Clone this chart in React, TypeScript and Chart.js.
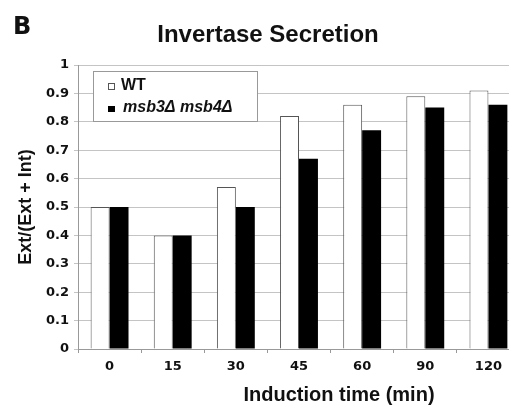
import React, { useEffect, useRef } from "react";
import { Chart, registerables } from "chart.js";

Chart.register(...registerables);

const categories = ["0", "15", "30", "45", "60", "90", "120"];
const wtValues = [0.5, 0.4, 0.57, 0.82, 0.86, 0.89, 0.91];
const mutantValues = [0.5, 0.4, 0.5, 0.67, 0.77, 0.85, 0.86];
const yTickLabels = ["0", "0.1", "0.2", "0.3", "0.4", "0.5", "0.6", "0.7", "0.8", "0.9", "1"];
const seriesLabels = ["WT", "msb3Δ msb4Δ"];
const chartTitle = "Invertase Secretion";
const panelLetter = "B";
const xTitle = "Induction time (min)";
const yTitle = "Ext/(Ext + Int)";

const SANS = "'Liberation Sans', Arial, sans-serif";
const TICK_FONT = "'DejaVu Sans', sans-serif";

const overlayPlugin = {
  id: "overlay",
  afterDraw(chart: any) {
    const ctx = chart.ctx as CanvasRenderingContext2D;
    const area = chart.chartArea;
    ctx.save();
    ctx.fillStyle = "#111";
    ctx.textBaseline = "alphabetic";
    // panel letter
    ctx.textAlign = "left";
    ctx.font = `bold 24px 'DejaVu Sans', sans-serif`;
    ctx.fillText(panelLetter, 13, 34);
    // title
    ctx.textAlign = "center";
    ctx.font = `bold 24px ${SANS}`;
    ctx.fillText(chartTitle, 268, 42);
    // x title
    ctx.font = `bold 20px ${SANS}`;
    ctx.fillText(xTitle, 339, 401);

    // legend
    const bx = area.left + 15;
    const by = area.top + 6;
    const bw = 164;
    const bh = 50;
    ctx.fillStyle = "#fff";
    ctx.fillRect(bx, by, bw, bh);
    ctx.strokeStyle = "#999";
    ctx.lineWidth = 1;
    ctx.strokeRect(bx + 0.5, by + 0.5, bw, bh);
    const ds = chart.data.datasets;
    // entry 1
    ctx.fillStyle = "#fff";
    ctx.fillRect(bx + 15, by + 12, 6, 6);
    ctx.strokeStyle = "#555";
    ctx.strokeRect(bx + 15.5, by + 12.5, 6, 6);
    ctx.fillStyle = "#111";
    ctx.textAlign = "left";
    ctx.font = `bold 16px ${SANS}`;
    ctx.fillText(ds[0].label, bx + 28, by + 19);
    // entry 2
    ctx.fillStyle = ds[1].backgroundColor;
    ctx.fillRect(bx + 15, by + 35, 7, 6);
    ctx.fillStyle = "#111";
    ctx.font = `italic bold 16px ${SANS}`;
    ctx.fillText(ds[1].label, bx + 30, by + 41);
    ctx.restore();
  },
};

export default function App() {
  const canvasRef = useRef<HTMLCanvasElement | null>(null);

  useEffect(() => {
    if (!canvasRef.current) return;
    const chart = new Chart(canvasRef.current, {
      type: "bar",
      data: {
        labels: categories,
        datasets: [
          {
            label: seriesLabels[0],
            data: wtValues,
            backgroundColor: "#ffffff",
            borderColor: "#555555",
            borderWidth: 1,
            borderSkipped: "bottom",
          },
          {
            label: seriesLabels[1],
            data: mutantValues,
            backgroundColor: "#000000",
            borderColor: "#000000",
            borderWidth: 0,
          },
        ],
      },
      options: {
        responsive: false,
        animation: false,
        devicePixelRatio: 1,
        layout: { padding: { top: 65, bottom: 34, left: 0, right: 0 } },
        datasets: {
          bar: { categoryPercentage: 0.6, barPercentage: 1 },
        },
        plugins: {
          legend: { display: false },
          title: { display: false },
          tooltip: { enabled: false },
        },
        scales: {
          x: {
            afterFit: (s: any) => {
              s.height = 24;
            },
            grid: {
              display: true,
              drawOnChartArea: false,
              drawTicks: true,
              tickLength: 4,
              color: "#999",
              offset: true,
            },
            border: { display: true, color: "#999", width: 1 },
            ticks: {
              padding: 6,
              color: "#111",
              font: { family: TICK_FONT, size: 13, weight: "bold" },
              maxRotation: 0,
            },
            title: { display: false, text: xTitle },
          },
          y: {
            min: 0,
            max: 1,
            afterFit: (s: any) => {
              s.width = 78;
            },
            grid: {
              color: "#c4c4c4",
              lineWidth: 1,
              drawTicks: true,
              tickLength: 4,
            },
            border: { display: true, color: "#999", width: 1 },
            ticks: {
              stepSize: 0.1,
              padding: 5,
              color: "#111",
              font: { family: TICK_FONT, size: 13, weight: "bold" },
              callback: (v: any) => yTickLabels[Math.round(Number(v) * 10)],
            },
            title: {
              display: true,
              text: yTitle,
              color: "#111",
              font: { family: SANS, size: 18, weight: "bold" },
              padding: { top: 15, bottom: 0 },
            },
          },
        },
      },
      plugins: [overlayPlugin],
    });
    return () => chart.destroy();
  }, []);

  return (
    <div
      style={{
        position: "fixed",
        left: 0,
        top: 0,
        width: 509,
        height: 407,
        overflow: "hidden",
        background: "#fff",
      }}
    >
      <canvas ref={canvasRef} width={520} height={407} style={{ display: "block" }} />
    </div>
  );
}
